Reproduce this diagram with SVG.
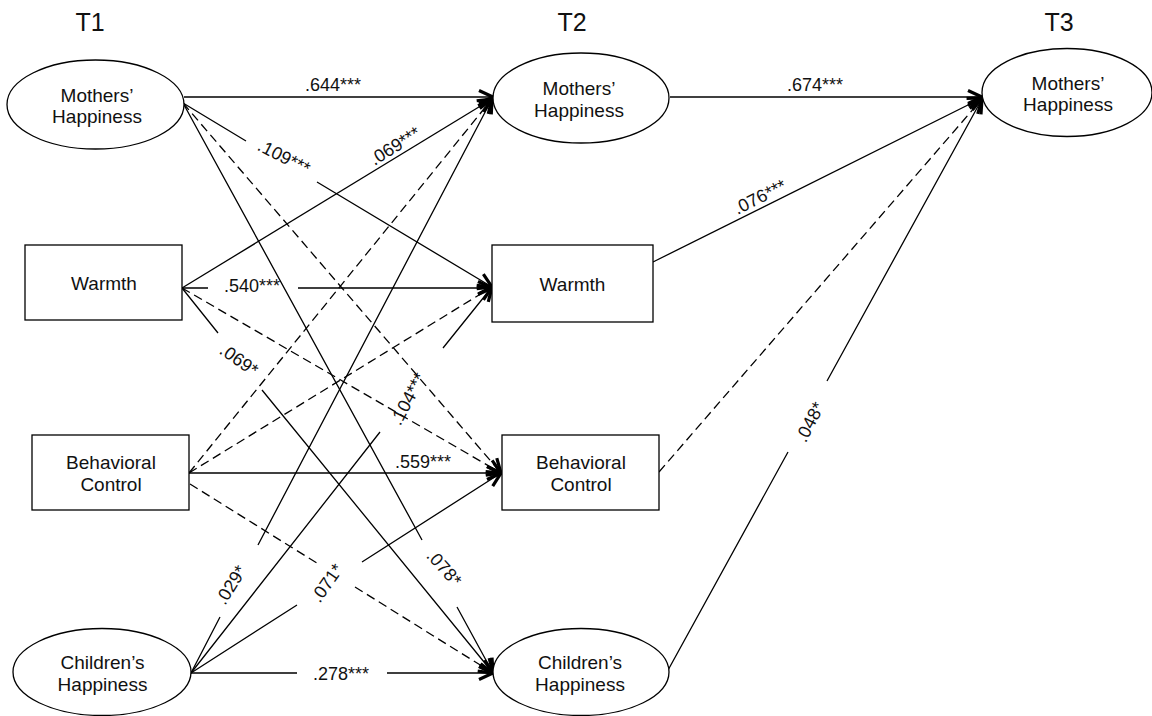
<svg xmlns="http://www.w3.org/2000/svg" width="1152" height="716" viewBox="0 0 1152 716">
<style>
text{font-family:"Liberation Sans",Arial,sans-serif;fill:#111}
.t{font-size:25px;text-anchor:middle}
.n{font-size:19px;text-anchor:middle}
.e{font-size:18px;text-anchor:middle}
.shape{fill:#fff;stroke:#000;stroke-width:1.3}
.c{fill:none;stroke:#000;stroke-width:1.3;marker-end:url(#arr)}
.d{stroke-dasharray:9 5}
</style>
<defs>
<marker id="arr" viewBox="-18 -10 24 20" refX="0" refY="0" markerWidth="24" markerHeight="20" markerUnits="userSpaceOnUse" orient="auto">
<path d="M-14,-6.5 L0,0 L-14,6.5" fill="none" stroke="#000" stroke-width="3.2" stroke-dasharray="none"/>
</marker>
</defs>
<rect width="1152" height="716" fill="#fff"/>
<g id="time-labels">
<text class="t" x="90" y="31">T1</text>
<text class="t" x="572" y="31">T2</text>
<text class="t" x="1059" y="31">T3</text>
</g>
<g id="connectors">
<path class="c" d="M184,97 L493,97"/>
<path class="c" d="M183,103 L246,141 M317,182 L492,287"/>
<path class="c" d="M183,103 L422,540 M457,607 L493,673"/>
<path class="c" d="M182,288 L492,99"/>
<path class="c" d="M182,288 L208,288 M298,288 L492,288"/>
<path class="c" d="M182,288 L218,333 M262,390 L493,673"/>
<path class="c" d="M189,473 L501,473"/>
<path class="c" d="M191,673 L220,617 M258,545 L492,99"/>
<path class="c" d="M191,673 L380,432 M443,348 L492,287"/>
<path class="c" d="M191,673 L297,605 M362,562 L501,473"/>
<path class="c" d="M191,673 L297,673 M387,673 L493,673"/>
<path class="c" d="M670,97 L982,97"/>
<path class="c" d="M653,262 L982,98"/>
<path class="c" d="M667,672 L788,452 M827,381 L982,99"/>
<path class="c d" d="M183,103 L501,473"/>
<path class="c d" d="M182,288 L501,473"/>
<path class="c d" d="M189,473 L492,99"/>
<path class="c d" d="M189,473 L492,287"/>
<path class="c d" d="M190,484 L320,565 M355,587 L493,673"/>
<path class="c d" d="M659,472 L982,99"/>
</g>
<g id="edge-labels">
<text class="e" x="333" y="91">.644***</text>
<text class="e" x="815" y="91">.674***</text>
<text class="e" x="423" y="468">.559***</text>
<text class="e" x="252" y="292">.540***</text>
<text class="e" x="341" y="680">.278***</text>
<text class="e" transform="translate(284,157) rotate(27)" x="0" y="6">.109***</text>
<text class="e" transform="translate(395,146) rotate(-32)" x="0" y="6">.069***</text>
<text class="e" transform="translate(239,360) rotate(35)" x="0" y="6">.069*</text>
<text class="e" transform="translate(408,399) rotate(-62)" x="0" y="6">.104***</text>
<text class="e" transform="translate(231,585) rotate(-58)" x="0" y="6">.029*</text>
<text class="e" transform="translate(327,583) rotate(-55)" x="0" y="6">.071*</text>
<text class="e" transform="translate(444,568) rotate(48)" x="0" y="6">.078*</text>
<text class="e" transform="translate(760,197) rotate(-26.6)" x="0" y="6">.076***</text>
<text class="e" transform="translate(810,422) rotate(-63)" x="0" y="6">.048*</text>
</g>
<g id="t1-mothers-happiness">
<ellipse class="shape" cx="95.5" cy="104.5" rx="88.5" ry="44.5"/>
<text class="n" x="97" y="101.5">Mothers’</text>
<text class="n" x="97" y="122.5">Happiness</text>
</g>
<g id="t1-warmth">
<rect class="shape" x="25" y="245" width="157" height="75"/>
<text class="n" x="104" y="289.5">Warmth</text>
</g>
<g id="t1-behavioral-control">
<rect class="shape" x="32" y="435" width="157" height="75"/>
<text class="n" x="111" y="469">Behavioral</text>
<text class="n" x="111" y="491">Control</text>
</g>
<g id="t1-childrens-happiness">
<ellipse class="shape" cx="102" cy="672" rx="89" ry="43.5"/>
<text class="n" x="102.5" y="669">Children’s</text>
<text class="n" x="102.5" y="691">Happiness</text>
</g>
<g id="t2-mothers-happiness">
<ellipse class="shape" cx="581" cy="98" rx="88" ry="45"/>
<text class="n" x="579" y="95">Mothers’</text>
<text class="n" x="579" y="116.5">Happiness</text>
</g>
<g id="t2-warmth">
<rect class="shape" x="492" y="245" width="161" height="77"/>
<text class="n" x="572.5" y="291">Warmth</text>
</g>
<g id="t2-behavioral-control">
<rect class="shape" x="502" y="435" width="157" height="75"/>
<text class="n" x="581" y="469">Behavioral</text>
<text class="n" x="581" y="491">Control</text>
</g>
<g id="t2-childrens-happiness">
<ellipse class="shape" cx="581" cy="672" rx="88" ry="43.5"/>
<text class="n" x="580" y="669">Children’s</text>
<text class="n" x="580" y="690.5">Happiness</text>
</g>
<g id="t3-mothers-happiness">
<ellipse class="shape" cx="1067" cy="92.5" rx="85" ry="44"/>
<text class="n" x="1068" y="90">Mothers’</text>
<text class="n" x="1068" y="110.5">Happiness</text>
</g>
</svg>
